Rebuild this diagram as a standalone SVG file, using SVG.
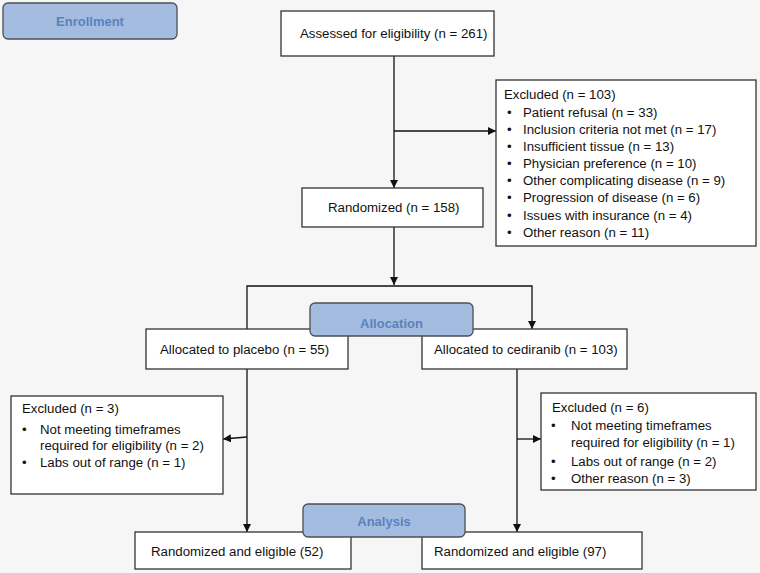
<svg xmlns="http://www.w3.org/2000/svg" width="760" height="573" viewBox="0 0 760 573">
<defs>
<marker id="ah" viewBox="0 0 10 10" refX="10" refY="5" markerWidth="8" markerHeight="8" markerUnits="userSpaceOnUse" orient="auto">
<path d="M0,0 L10,5 L0,10 z" fill="#111"/>
</marker>
<style>
.box{fill:#fff;stroke:#333;stroke-width:1.3}
.stage{fill:#a4bcdf;stroke:#4a4f58;stroke-width:1.3}
.st{font-family:"Liberation Sans",Arial,sans-serif;font-size:13px;font-weight:bold;fill:#5a82be;text-anchor:middle}
.t{font-family:"Liberation Sans",Arial,sans-serif;font-size:13.25px;fill:#111}
.c{fill:none;stroke:#111;stroke-width:1.3}
</style>
</defs>
<rect width="760" height="573" fill="#f6f6f6"/>
<g id="connectors">
<line class="c" x1="394" y1="56" x2="394" y2="188" marker-end="url(#ah)"/>
<line class="c" x1="394" y1="131" x2="496" y2="131" marker-end="url(#ah)"/>
<line class="c" x1="394" y1="227" x2="394" y2="285" marker-end="url(#ah)"/>
<polyline class="c" points="247,329 247,286 532,286 532,329" marker-start="url(#ah)" marker-end="url(#ah)"/>
<line class="c" x1="247" y1="369" x2="247" y2="532" marker-end="url(#ah)"/>
<line class="c" x1="247" y1="437" x2="223" y2="439" marker-end="url(#ah)"/>
<line class="c" x1="517" y1="369" x2="517" y2="532" marker-end="url(#ah)"/>
<line class="c" x1="517" y1="439" x2="541" y2="439" marker-end="url(#ah)"/>
</g>
<g id="enrollment">
<rect class="stage" x="3" y="3" width="174" height="36" rx="5"/>
<text class="st" x="90" y="25.5">Enrollment</text>
</g>
<g id="assessed">
<rect class="box" x="281" y="11" width="213" height="45"/>
<text class="t" x="300" y="38">Assessed for eligibility (n = 261)</text>
</g>
<g id="excluded-enroll">
<rect class="box" x="496" y="80" width="260" height="166"/>
<text class="t" x="504" y="99">Excluded (n = 103)</text>
<g>
<text class="t" x="507" y="116.5">•</text><text class="t" x="523" y="116.5">Patient refusal (n = 33)</text>
<text class="t" x="507" y="133.5">•</text><text class="t" x="523" y="133.5">Inclusion criteria not met (n = 17)</text>
<text class="t" x="507" y="151">•</text><text class="t" x="523" y="151">Insufficient tissue (n = 13)</text>
<text class="t" x="507" y="168">•</text><text class="t" x="523" y="168">Physician preference (n = 10)</text>
<text class="t" x="507" y="185">•</text><text class="t" x="523" y="185">Other complicating disease (n = 9)</text>
<text class="t" x="507" y="202">•</text><text class="t" x="523" y="202">Progression of disease (n = 6)</text>
<text class="t" x="507" y="219.5">•</text><text class="t" x="523" y="219.5">Issues with insurance (n = 4)</text>
<text class="t" x="507" y="236.5">•</text><text class="t" x="523" y="236.5">Other reason (n = 11)</text>
</g>
</g>
<g id="randomized">
<rect class="box" x="302" y="188" width="181" height="39"/>
<text class="t" x="328" y="212">Randomized (n = 158)</text>
</g>
<g id="placebo">
<rect class="box" x="146" y="329" width="202" height="40"/>
<text class="t" x="160" y="353.5">Allocated to placebo (n = 55)</text>
</g>
<g id="cediranib">
<rect class="box" x="422" y="329" width="205" height="40"/>
<text class="t" x="434" y="353.5">Allocated to cediranib (n = 103)</text>
</g>
<g id="allocation">
<rect class="stage" x="310" y="303" width="163" height="33" rx="5"/>
<text class="st" x="391.5" y="328">Allocation</text>
</g>
<g id="excluded-placebo">
<rect class="box" x="11" y="396" width="212" height="98"/>
<text class="t" x="22" y="412.5">Excluded (n = 3)</text>
<text class="t" x="22" y="433.5">•</text><text class="t" x="40" y="433.5">Not meeting timeframes</text>
<text class="t" x="40" y="449.5">required for eligibility (n = 2)</text>
<text class="t" x="22" y="466.5">•</text><text class="t" x="40" y="466.5">Labs out of range (n = 1)</text>
</g>
<g id="excluded-cediranib">
<rect class="box" x="541" y="393" width="215" height="97"/>
<text class="t" x="552" y="411.5">Excluded (n = 6)</text>
<text class="t" x="551" y="429.5">•</text><text class="t" x="571" y="429.5">Not meeting timeframes</text>
<text class="t" x="571" y="446.5">required for eligibility (n = 1)</text>
<text class="t" x="551" y="465.5">•</text><text class="t" x="571" y="465.5">Labs out of range (n = 2)</text>
<text class="t" x="551" y="482.5">•</text><text class="t" x="571" y="482.5">Other reason (n = 3)</text>
</g>
<g id="eligible-placebo">
<rect class="box" x="135" y="532" width="216" height="37"/>
<text class="t" x="151" y="555.5">Randomized and eligible (52)</text>
</g>
<g id="eligible-cediranib">
<rect class="box" x="422" y="532" width="220" height="37"/>
<text class="t" x="434" y="555.5">Randomized and eligible (97)</text>
</g>
<g id="analysis">
<rect class="stage" x="303" y="504" width="162" height="33" rx="5"/>
<text class="st" x="384" y="525.5">Analysis</text>
</g>
</svg>
